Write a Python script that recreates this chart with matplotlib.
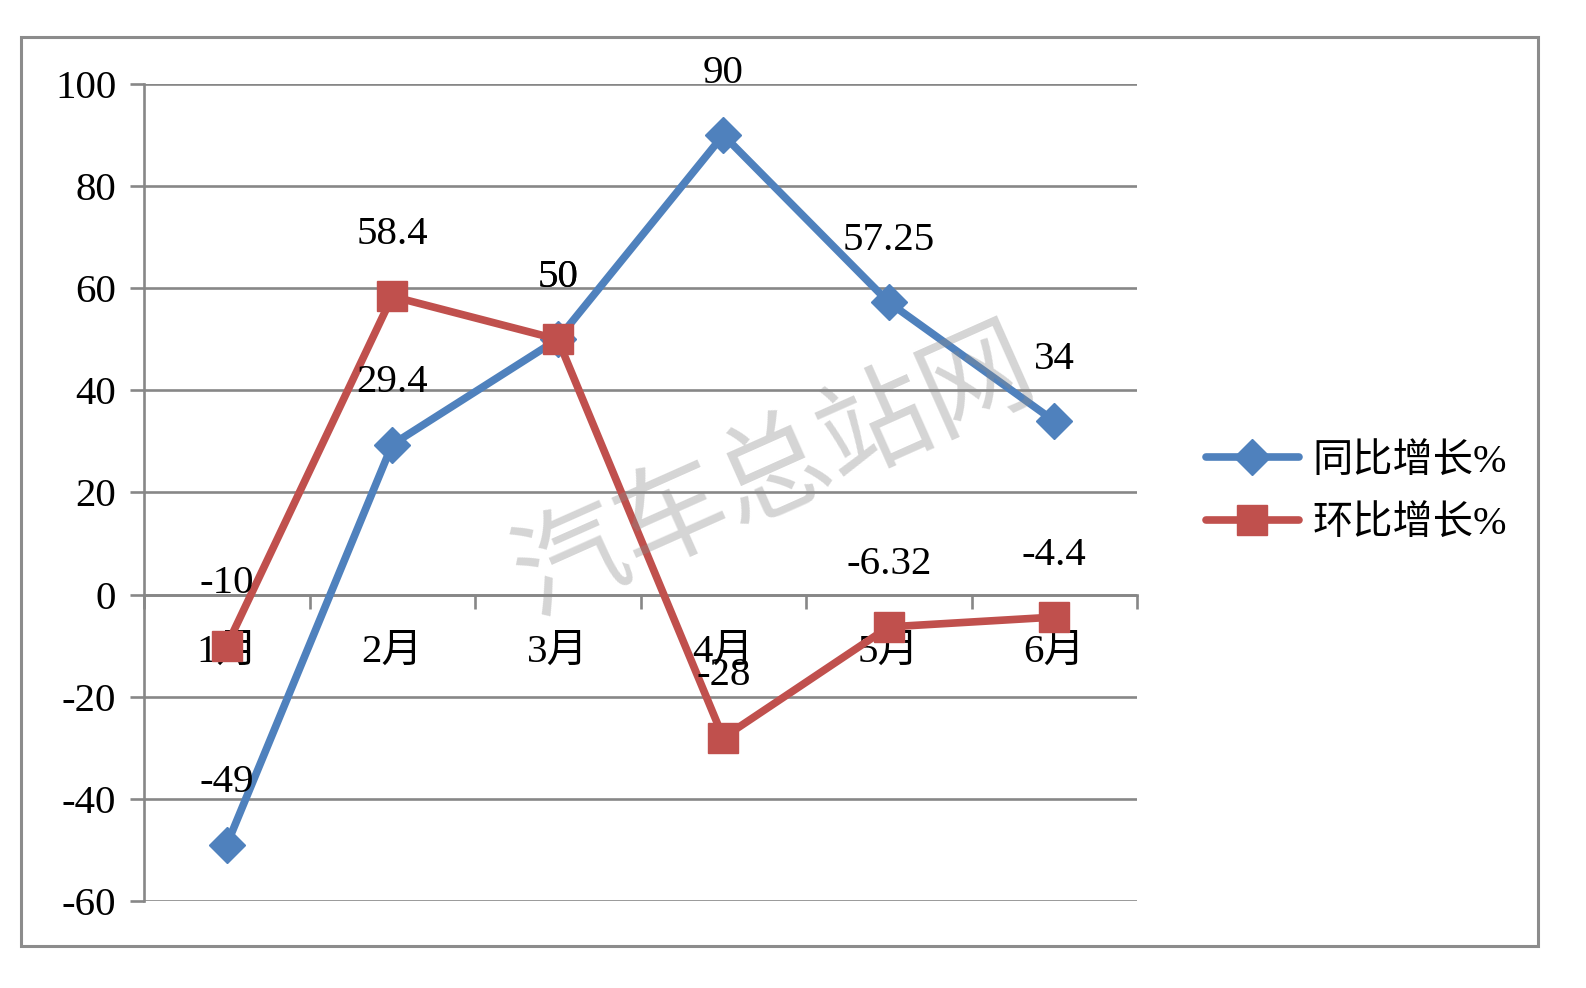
import matplotlib
matplotlib.use("Agg")
import matplotlib.pyplot as plt
from matplotlib.patches import Rectangle
from matplotlib.lines import Line2D

months = ["1月", "2月", "3月", "4月", "5月", "6月"]
yoy = [-49, 29.4, 50, 90, 57.25, 34]
mom = [-10, 58.4, 50, -28, -6.32, -4.4]
yoy_labels = ["-49", "29.4", "50", "90", "57.25", "34"]
mom_labels = ["-10", "58.4", "50", "-28", "-6.32", "-4.4"]
series_names = ["同比增长%", "环比增长%"]
yticks = [-60, -40, -20, 0, 20, 40, 60, 80, 100]

BLUE = "#4F81BD"
RED = "#C0504D"
GRID = "#878787"
FONT = ["Liberation Serif", "Noto Sans CJK SC"]

W, H = 1586, 988
fig = plt.figure(figsize=(W / 100, H / 100), dpi=100)
fig.patch.set_facecolor("white")

# outer border
fig.patches.append(Rectangle((21 / W, 1 - 946 / H), (1538 - 21) / W, (946 - 37) / H,
                             transform=fig.transFigure, fill=False,
                             edgecolor="#8c8c8c", linewidth=2.2, zorder=0))

ax = fig.add_axes([144 / W, 1 - 901 / H, (1137 - 144) / W, (901 - 84) / H])
x = list(range(1, len(months) + 1))

ax.set_xlim(0.5, len(months) + 0.5)
ax.set_ylim(-60, 100)
ax.set_yticks(yticks)
ax.set_yticklabels([str(v) for v in yticks], fontfamily=FONT, fontsize=29.5)
ax.yaxis.grid(True, color=GRID, linewidth=1.9)
ax.set_axisbelow(True)

for s in ["top", "right"]:
    ax.spines[s].set_visible(False)
ax.spines["left"].set_color(GRID)
ax.spines["left"].set_linewidth(1.9)
ax.spines["bottom"].set_position(("data", 0))
ax.spines["bottom"].set_color(GRID)
ax.spines["bottom"].set_linewidth(1.9)

ax.tick_params(axis="y", length=10, width=1.9, color=GRID, pad=10)
ax.set_xticks(x)
ax.set_xticklabels(months, fontfamily=FONT, fontsize=29.5)
ax.set_xticks([v + 0.5 for v in range(0, len(months) + 1)], minor=True)
ax.tick_params(axis="x", which="major", length=0, pad=28)
ax.tick_params(axis="x", which="minor", length=10, width=1.9, color=GRID, direction="out")

ax.plot(x, yoy, color=BLUE, linewidth=5.5, marker="D", markersize=18,
        solid_capstyle="round", zorder=3, clip_on=False)
ax.plot(x, mom, color=RED, linewidth=5.5, marker="s", markersize=22,
        solid_capstyle="round", zorder=4, clip_on=False)

for xi, v, t in zip(x, yoy, yoy_labels):
    ax.annotate(t, (xi, v), xytext=(0, 62), textcoords="offset pixels",
                ha="center", va="center", fontfamily=FONT, fontsize=29.5, zorder=6)
for xi, v, t in zip(x, mom, mom_labels):
    ax.annotate(t, (xi, v), xytext=(0, 62), textcoords="offset pixels",
                ha="center", va="center", fontfamily=FONT, fontsize=29.5, zorder=6)

# legend
handles = [Line2D([], [], color=BLUE, linewidth=5.5, marker="D", markersize=18, solid_capstyle="round"),
           Line2D([], [], color=RED, linewidth=5.5, marker="s", markersize=22, solid_capstyle="round")]
fig.legend(handles, series_names, loc="center left",
           bbox_to_anchor=(1190 / W, 1 - 493 / H), frameon=False,
           prop={"family": FONT, "size": 29}, handlelength=2.3,
           handletextpad=0.35, labelspacing=0.62, borderaxespad=0)

# watermark
fig.text(775 / W, 1 - 472 / H, "汽车总站网", fontfamily=["Noto Sans CJK SC"],
         fontsize=80, fontweight="medium", color="#8a8a8a", alpha=0.36, rotation=24,
         ha="center", va="center", zorder=10)

fig.savefig("out.png", dpi=100, facecolor="white")
